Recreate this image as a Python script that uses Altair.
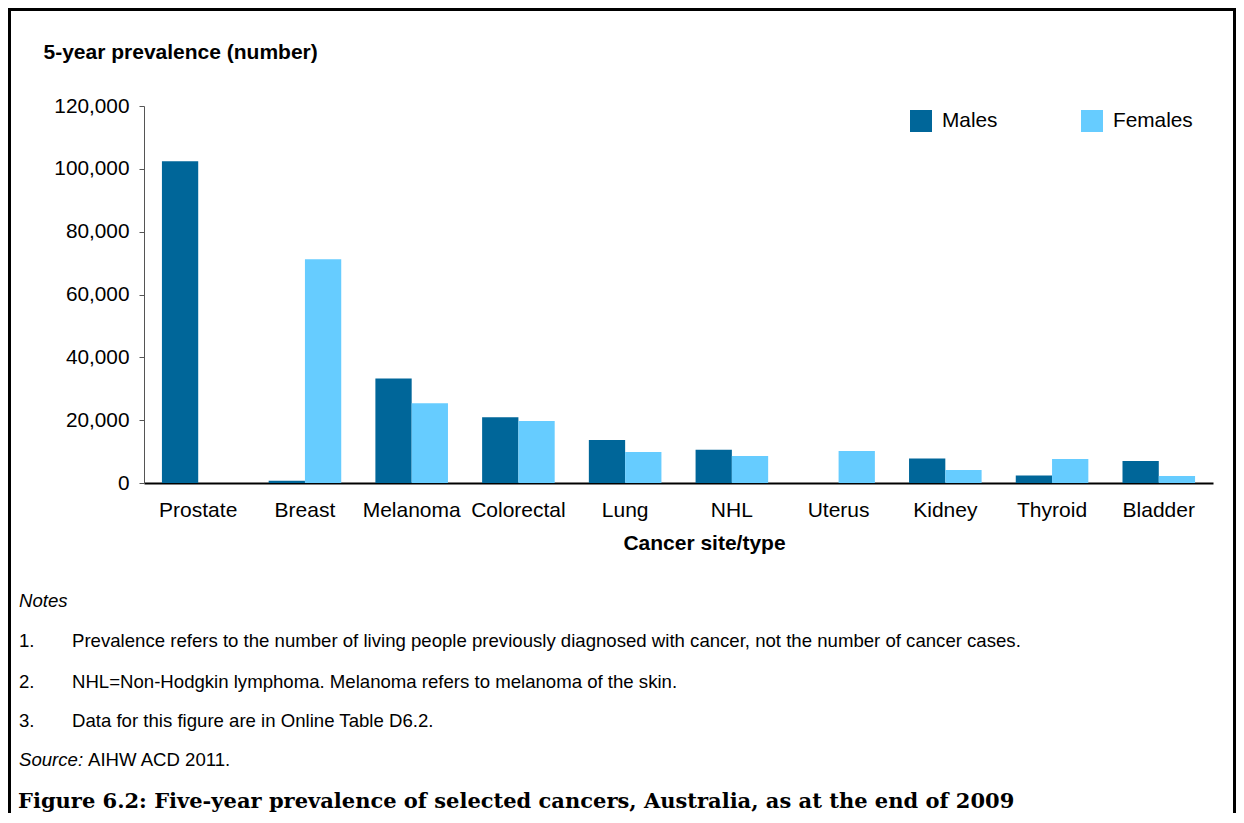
import altair as alt
import pandas as pd

categories = ["Prostate", "Breast", "Melanoma", "Colorectal", "Lung", "NHL",
              "Uterus", "Kidney", "Thyroid", "Bladder"]
males = [102400, 700, 33300, 20900, 13700, 10600, 0, 7800, 2400, 7000]
females = [0, 71200, 25400, 19700, 9900, 8600, 10200, 4100, 7600, 2200]
series = ["Males", "Females"]
colors = ["#006699", "#66CCFF"]
y_ticks = [0, 20000, 40000, 60000, 80000, 100000, 120000]

y_title = "5-year prevalence (number)"
x_title = "Cancer site/type"
notes_heading = "Notes"
note_numbers = ["1.", "2.", "3."]
note_texts = [
    "Prevalence refers to the number of living people previously diagnosed with cancer, not the number of cancer cases.",
    "NHL=Non-Hodgkin lymphoma. Melanoma refers to melanoma of the skin.",
    "Data for this figure are in Online Table D6.2.",
]
source_label = "Source:"
source_text = "AIHW ACD 2011."
caption = "Figure 6.2: Five-year prevalence of selected cancers, Australia, as at the end of 2009"

rows = []
for c, m, f in zip(categories, males, females):
    rows.append({"Cancer": c, "Sex": "Males", "Value": m})
    rows.append({"Cancer": c, "Sex": "Females", "Value": f})
df = pd.DataFrame(rows)

SANS = "Liberation Sans"
SERIF = "DejaVu Serif"
W, H = 1069, 377

bars = alt.Chart(df).mark_bar().encode(
    x=alt.X("Cancer:N", sort=categories,
            scale=alt.Scale(paddingInner=0.32, paddingOuter=0.168),
            axis=alt.Axis(title=x_title, labelAngle=0, ticks=False, tickSize=0,
                          labelFontSize=21, labelFont=SANS, labelColor="#000000",
                          labelPadding=33, labelBaseline="alphabetic",
                          domainColor="#000000", domainWidth=2,
                          titleFont=SANS, titleFontSize=21, titleFontWeight="bold",
                          titleColor="#000000", titleX=560, titleY=66,
                          titleBaseline="alphabetic", titleAlign="center")),
    xOffset=alt.XOffset("Sex:N", sort=series,
                        scale=alt.Scale(paddingInner=0, paddingOuter=0)),
    y=alt.Y("Value:Q", scale=alt.Scale(domain=[0, 120000], nice=False),
            axis=alt.Axis(title=y_title, values=y_ticks,
                          labelExpr="format(datum.value, ',.0f')", grid=False,
                          labelFontSize=20.8, labelFont=SANS, labelColor="#000000",
                          labelPadding=10, tickSize=5, tickColor="#555555",
                          domainColor="#555555",
                          titleFont=SANS, titleFontSize=21, titleFontWeight="bold",
                          titleColor="#000000", titleAngle=0, titleAlign="left",
                          titleBaseline="alphabetic", titleX=-101, titleY=-48)),
    color=alt.Color("Sex:N", sort=series,
                    scale=alt.Scale(domain=series, range=colors),
                    legend=alt.Legend(title=None, orient="none", legendX=766, legendY=4,
                                      direction="horizontal", columns=2,
                                      symbolType="square", symbolSize=484,
                                      symbolStrokeWidth=0, symbolOpacity=1,
                                      labelFont=SANS, labelFontSize=20.8,
                                      labelColor="#000000", labelOffset=10,
                                      columnPadding=83, padding=0)),
).properties(width=W, height=H)

one = alt.Data(values=[{}])

def txt(s, x, y, size=18.6, style="normal", weight="normal", font=SANS):
    return alt.Chart(one).mark_text(
        align="left", baseline="alphabetic", font=font, fontSize=size,
        fontStyle=style, fontWeight=weight, color="#000000"
    ).encode(x=alt.value(x), y=alt.value(y), text=alt.value(s))

layers = [bars]
layers.append(txt(notes_heading, -125, 501, style="italic"))
ys = [541, 582, 621]
for num, t, yy in zip(note_numbers, note_texts, ys):
    layers.append(txt(num, -125, yy))
    layers.append(txt(t, -72, yy))
layers.append(txt(source_label, -125, 660, style="italic"))
layers.append(txt(source_text, -56, 660))
layers.append(txt(caption, -126, 702, size=21, weight="bold", font=SERIF))

# frame
frame_color = "#000000"
layers.append(alt.Chart(one).mark_rule(color=frame_color, strokeWidth=3).encode(
    x=alt.value(-134.5), y=alt.value(-98), y2=alt.value(707)))
layers.append(alt.Chart(one).mark_rule(color=frame_color, strokeWidth=3).encode(
    x=alt.value(-136), x2=alt.value(1092), y=alt.value(-96.5)))
layers.append(alt.Chart(one).mark_rule(color=frame_color, strokeWidth=3).encode(
    x=alt.value(1090.5), y=alt.value(-98), y2=alt.value(707)))

chart = alt.layer(*layers).properties(
    width=W, height=H,
    autosize=alt.AutoSizeParams(type="none"),
    padding={"left": 136, "top": 98, "right": 23, "bottom": 330},
    background="#ffffff",
).configure_view(strokeWidth=0)

chart.save("out.html", embed_options={"renderer": "svg", "actions": False})
